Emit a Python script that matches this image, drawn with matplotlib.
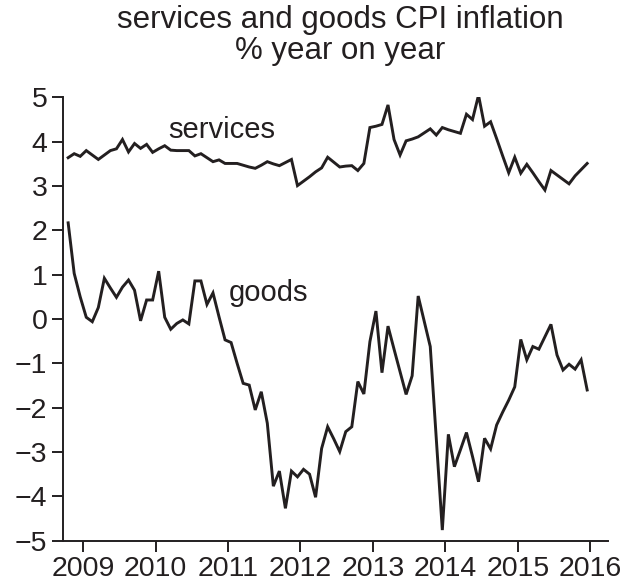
import numpy as np
import matplotlib
matplotlib.use("Agg")
import matplotlib.pyplot as plt

plt.rcParams['font.family'] = ['Liberation Sans', 'DejaVu Sans']

# monthly data, Oct 2008 .. Dec 2015
start_year = 2008
start_month = 10

services = [3.64, 3.73, 3.67, 3.80, 3.70, 3.60, 3.70, 3.80, 3.84, 4.05,
            3.77, 3.96, 3.85, 3.94, 3.76, 3.84, 3.91, 3.81, 3.80, 3.80,
            3.80, 3.68, 3.73, 3.64, 3.55, 3.59, 3.51, 3.51, 3.51, 3.47,
            3.43, 3.40, 3.47, 3.55, 3.50, 3.46, 3.53, 3.60, 3.01, 3.11,
            3.21, 3.32, 3.41, 3.65, 3.54, 3.43, 3.45, 3.46, 3.35, 3.51,
            4.32, 4.35, 4.39, 4.83, 4.05, 3.70, 4.02, 4.06, 4.11, 4.20,
            4.29, 4.15, 4.32, 4.27, 4.23, 4.19, 4.62, 4.50, 5.05, 4.35,
            4.45, 4.07, 3.68, 3.30, 3.65, 3.29, 3.49, 3.30, 3.10, 2.91,
            3.35, 3.25, 3.15, 3.05, 3.23, 3.37, 3.51]

goods = [2.17, 1.03, 0.50, 0.04, -0.06, 0.26, 0.92, 0.70, 0.49, 0.72,
         0.88, 0.65, -0.04, 0.43, 0.43, 1.08, 0.04, -0.23, -0.10, -0.02,
         -0.11, 0.86, 0.86, 0.33, 0.59, 0.05, -0.47, -0.53, -1.00, -1.45,
         -1.49, -2.05, -1.64, -2.35, -3.77, -3.43, -4.27, -3.43, -3.56, -3.39,
         -3.50, -4.02, -2.92, -2.43, -2.70, -2.99, -2.54, -2.43, -1.41, -1.69,
         -0.51, 0.18, -1.21, -0.16, -0.68, -1.19, -1.70, -1.28, 0.52, -0.05,
         -0.62, -2.70, -4.76, -2.60, -3.33, -2.95, -2.56, -3.10, -3.67, -2.69,
         -2.93, -2.39, -2.10, -1.83, -1.53, -0.46, -0.92, -0.62, -0.68, -0.40,
         -0.12, -0.81, -1.15, -1.02, -1.13, -0.92, -1.60]

year_ticks = [2009, 2010, 2011, 2012, 2013, 2014, 2015, 2016]
y_ticks = [-5, -4, -3, -2, -1, 0, 1, 2, 3, 4, 5]

ink = '#231f20'

n = len(services)
t = start_year + (start_month - 0.5 + np.arange(n)) / 12.0

fig = plt.figure(figsize=(6.26, 5.86), dpi=100)
ax = fig.add_axes([0.100, 0.0773, 0.8717, 0.7565])

ax.plot(t, services, color=ink, lw=2.1, solid_joinstyle='miter')
ax.plot(t, goods, color=ink, lw=2.1, solid_joinstyle='miter')

ax.set_xlim(2008.715, 2016.25)
ax.set_ylim(-5, 5)
ax.set_xticks(year_ticks)
ax.set_xticklabels([str(y) for y in year_ticks])
ax.set_yticks(y_ticks)

for s in ['top', 'right']:
    ax.spines[s].set_visible(False)
for s in ['left', 'bottom']:
    ax.spines[s].set_linewidth(1.4)
    ax.spines[s].set_color(ink)

ax.tick_params(axis='both', direction='out', length=8, width=1.4,
               color=ink, labelcolor=ink, labelsize=20.5)
ax.tick_params(axis='x', pad=3)
ax.tick_params(axis='y', pad=3)

ax.text(2010.18, 4.26, 'services', fontsize=21, color=ink, va='center', ha='left')
ax.text(2011.01, 0.59, 'goods', fontsize=21, color=ink, va='center', ha='left')

fig.text(340 / 626, 1 - 20 / 586, 'services and goods CPI inflation',
         fontsize=22.5, color=ink, ha='center', va='center')
fig.text(340 / 626, 1 - 51 / 586, '% year on year',
         fontsize=22.5, color=ink, ha='center', va='center')

fig.savefig('out.png', dpi=100)
